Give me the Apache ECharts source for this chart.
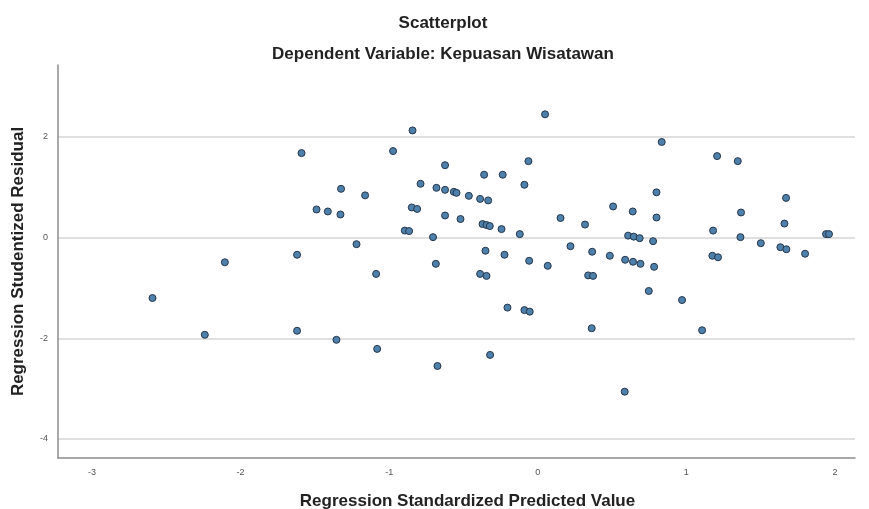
<!DOCTYPE html>
<html>
<head>
<meta charset="utf-8">
<script src="https://cdn.jsdelivr.net/npm/echarts@6/dist/echarts.min.js"></script>
<style>
html,body{margin:0;padding:0;background:#fff;}
#chart{width:869px;height:509px;}
</style>
</head>
<body>
<div id="chart"></div>
<script>
const titleText = 'Scatterplot';
const subtitleText = 'Dependent Variable: Kepuasan Wisatawan';
const xAxisName = 'Regression Standardized Predicted Value';
const yAxisName = 'Regression Studentized Residual';
const xTicks = [-3, -2, -1, 0, 1, 2];
const yTicks = [-4, -2, 0, 2];

const predicted = [
  -2.593, -2.241, -2.106, -1.620, -1.620, -1.590, -1.489, 0.049, -0.843, -0.974,
  -0.624, -0.063, -0.361, -0.236, -0.090, -0.789, -1.324, -1.162, -0.682, -0.624,
  -0.565, -0.547, -0.464, -0.388, -0.334, -1.413, -1.328, -0.848, -0.812, -0.624,
  -0.520, 0.153, -0.372, -0.345, -0.323, -0.244, -0.121, -0.895, -0.866, -0.705,
  -1.220, 0.220, -0.352, -0.224, -0.686, -0.058, 0.067, -1.088, -0.388, -0.345,
  -0.204, -0.090, -0.054, -1.355, -1.081, -0.321, -0.675, 0.834, 1.207, 1.346,
  0.799, 1.671, 0.507, 0.639, 0.799, 1.368, 0.318, 1.660, 1.180, 1.940,
  1.960, 0.608, 0.646, 0.686, 0.776, 1.364, 1.501, 1.633, 1.673, 0.366,
  0.485, 0.588, 0.641, 0.691, 0.783, 1.175, 1.213, 1.799, 0.339, 0.372,
  0.747, 0.971, 0.363, 1.106, 0.585
];
const residual = [
  -1.20, -1.93, -0.49, -0.34, -1.85, 1.68, 0.56, 2.45, 2.13, 1.72,
  1.44, 1.52, 1.25, 1.25, 1.05, 1.07, 0.97, 0.84, 0.99, 0.95,
  0.91, 0.89, 0.83, 0.77, 0.74, 0.52, 0.46, 0.60, 0.57, 0.44,
  0.37, 0.39, 0.27, 0.25, 0.23, 0.17, 0.07, 0.14, 0.13, 0.01,
  -0.13, -0.17, -0.26, -0.34, -0.52, -0.46, -0.56, -0.72, -0.72, -0.76,
  -1.39, -1.44, -1.47, -2.03, -2.21, -2.33, -2.55, 1.90, 1.62, 1.52,
  0.90, 0.79, 0.62, 0.52, 0.40, 0.50, 0.26, 0.28, 0.14, 0.07,
  0.07, 0.04, 0.02, -0.01, -0.07, 0.01, -0.11, -0.19, -0.23, -0.28,
  -0.36, -0.44, -0.48, -0.52, -0.58, -0.36, -0.39, -0.32, -0.75, -0.76,
  -1.06, -1.24, -1.80, -1.84, -3.06
];

const points = predicted.map((x, i) => [x, residual[i]]);

const chart = echarts.init(document.getElementById('chart'), null, {renderer: 'canvas'});
const labelFont = 'Arial, "Liberation Sans", sans-serif';
chart.setOption({
  backgroundColor: '#ffffff',
  animation: false,
  title: [
    {text: titleText, left: 438, top: 10, textAlign: 'center',
     textStyle: {fontFamily: labelFont, fontSize: 17, fontWeight: 'bold', color: '#222'}},
    {text: subtitleText, left: 438, top: 41, textAlign: 'center',
     textStyle: {fontFamily: labelFont, fontSize: 17, fontWeight: 'bold', color: '#222'}}
  ],
  grid: {left: 58, right: 14, top: 65, bottom: 51, containLabel: false, outerBoundsMode: 'none'},
  xAxis: {
    type: 'value',
    min: -3.229, max: 2.135,
    name: xAxisName,
    nameLocation: 'middle',
    nameGap: 35,
    nameTextStyle: {fontFamily: labelFont, fontSize: 17, fontWeight: 'bold', color: '#222', padding: [0, 0, 0, 22]},
    axisLine: {show: true, onZero: false, lineStyle: {color: '#8c8c8c', width: 1.5}},
    axisTick: {show: false, customValues: xTicks},
    axisLabel: {customValues: xTicks, fontFamily: labelFont, fontSize: 9, color: '#555', margin: 10},
    splitLine: {show: false}
  },
  yAxis: {
    type: 'value',
    min: -4.378, max: 3.43,
    name: yAxisName,
    nameLocation: 'middle',
    nameGap: 31,
    nameTextStyle: {fontFamily: labelFont, fontSize: 17, fontWeight: 'bold', color: '#222'},
    axisLine: {show: true, onZero: false, lineStyle: {color: '#8c8c8c', width: 1.5}},
    axisTick: {show: false, customValues: yTicks},
    axisLabel: {customValues: yTicks, fontFamily: labelFont, fontSize: 9, color: '#555', margin: 10},
    splitLine: {show: true, lineStyle: {color: '#d6d6d6', width: 1.5}}
  },
  series: [{
    type: 'scatter',
    data: points,
    symbol: 'circle',
    symbolSize: 7,
    itemStyle: {color: '#4d80aa', borderColor: '#25364a', borderWidth: 1, opacity: 1}
  }]
});
</script>
</body>
</html>
